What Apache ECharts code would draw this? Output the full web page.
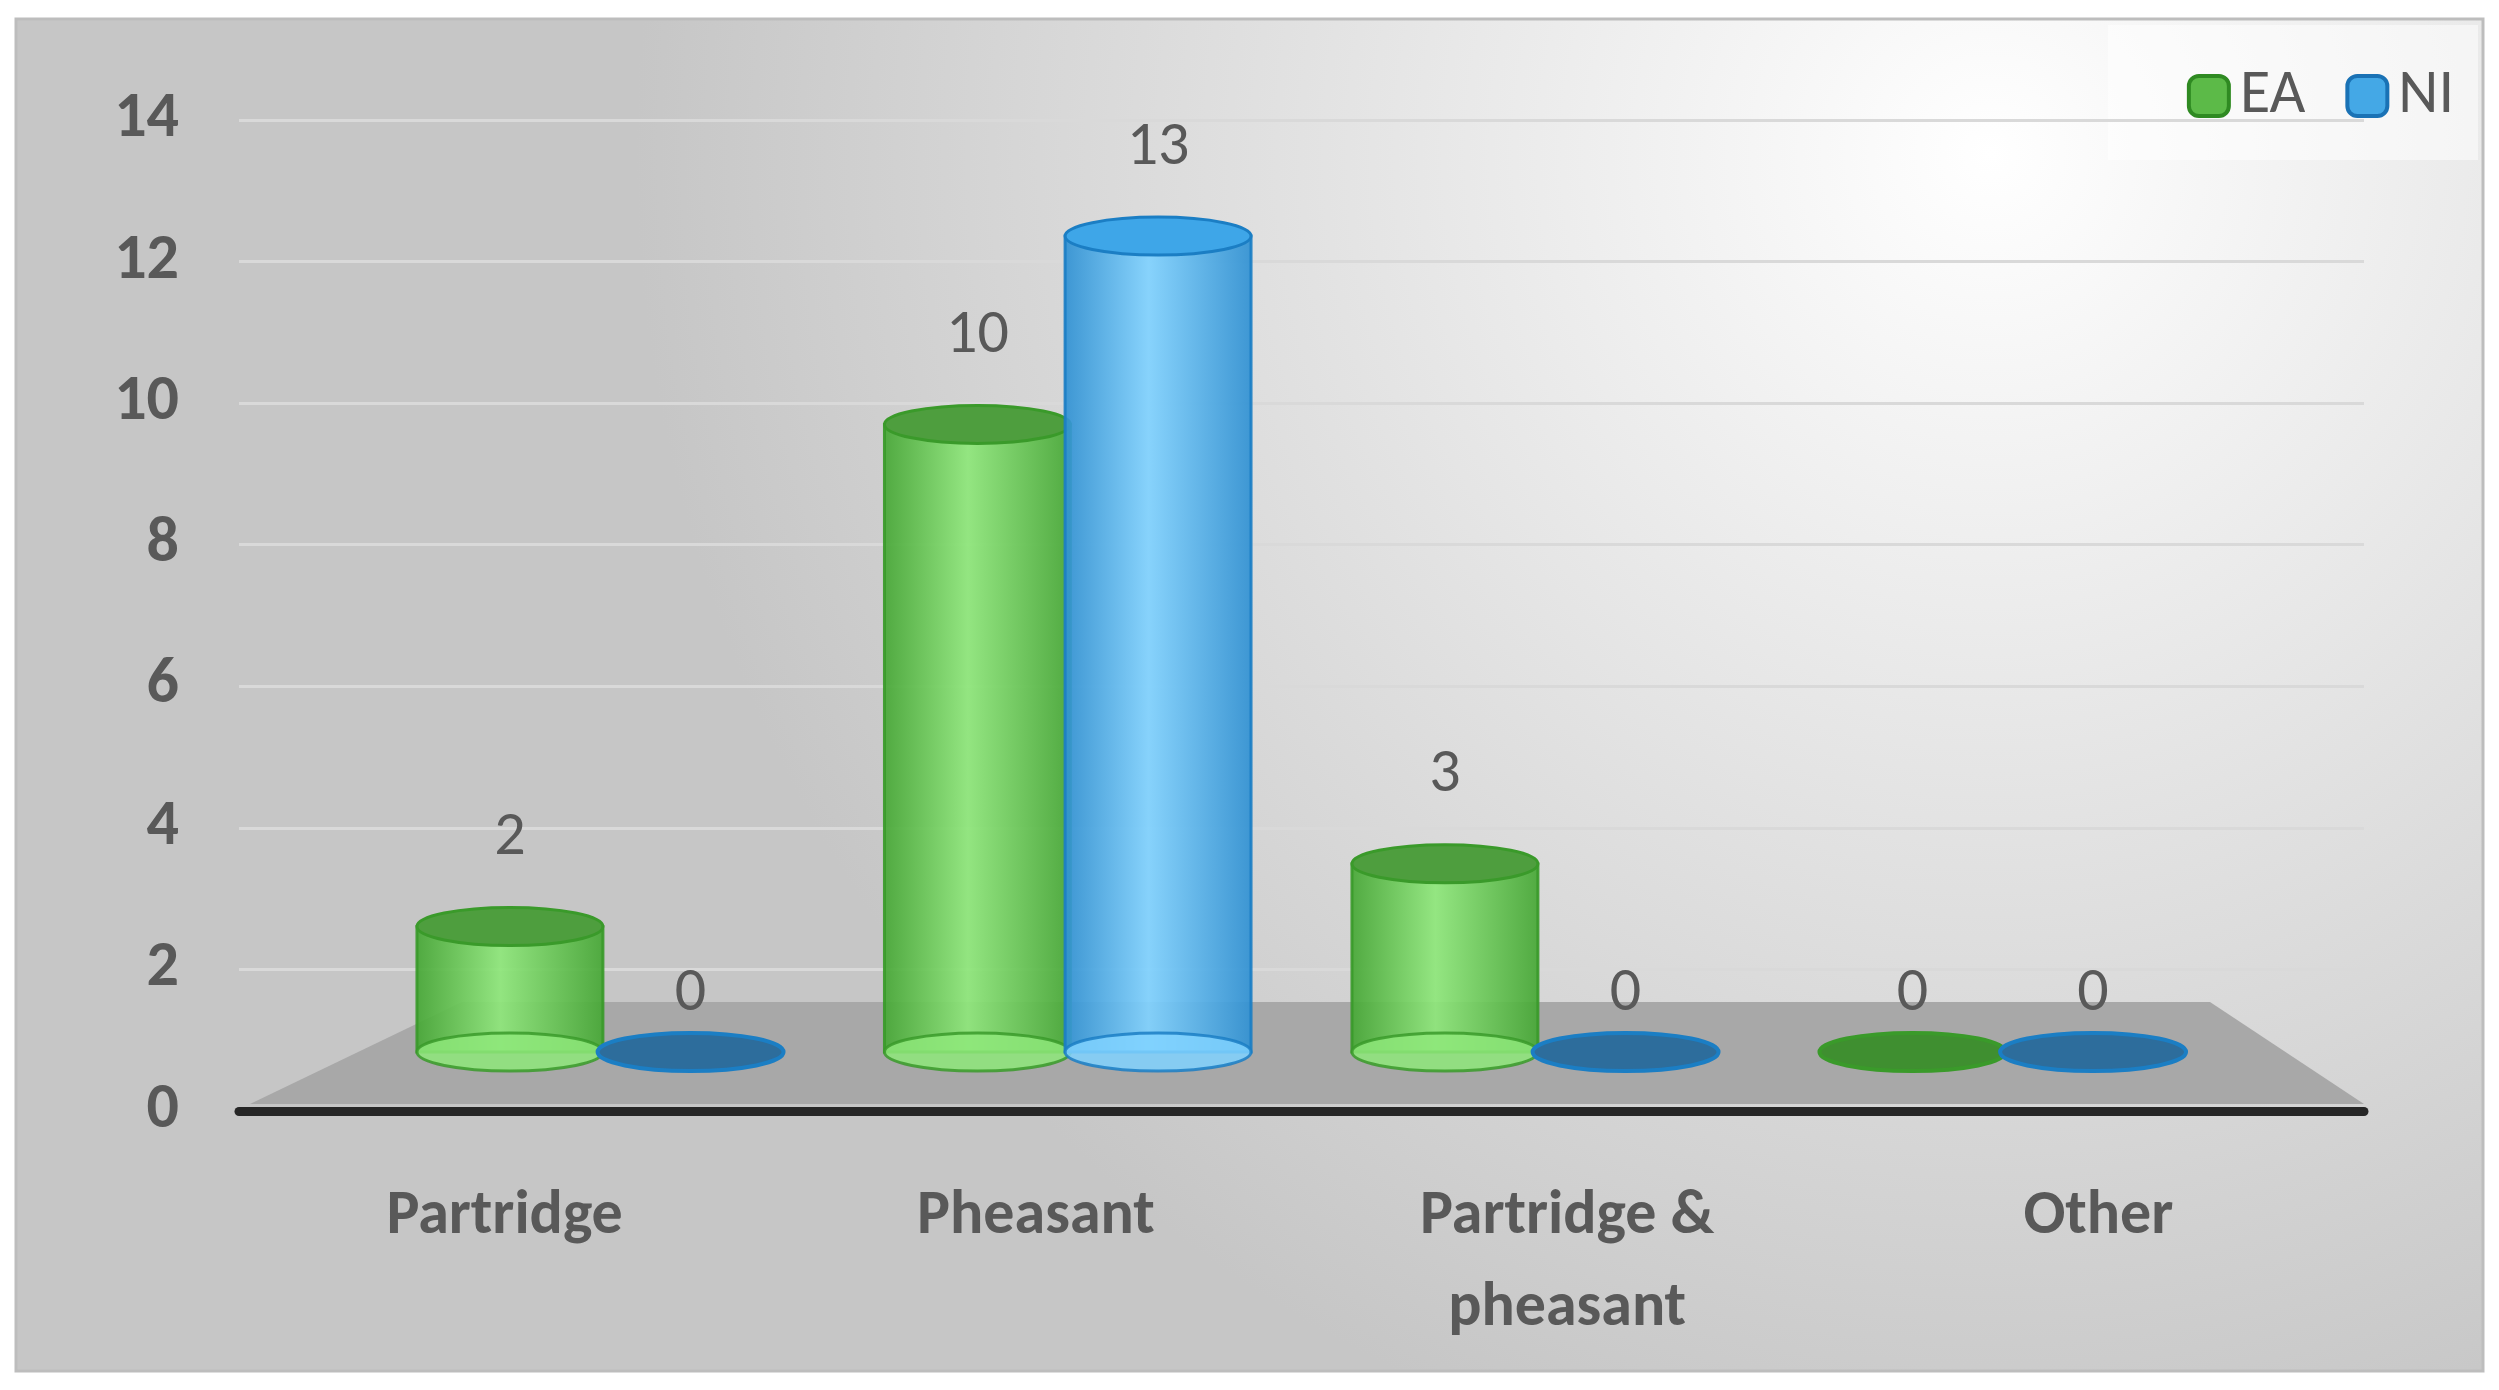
<!DOCTYPE html>
<html><head><meta charset="utf-8">
<script src="https://cdn.jsdelivr.net/npm/echarts@6/dist/echarts.min.js"></script>
<style>html,body{margin:0;padding:0;background:#fff}#chartDom{width:2499px;height:1390px}</style>
</head><body><div id="chartDom"></div>
<script>
var categories = ['Partridge', 'Pheasant', 'Partridge &\npheasant', 'Other'];
var eaValues = [2, 10, 3, 0];
var niValues = [0, 13, 0, 0];
var yTicks = [0, 2, 4, 6, 8, 10, 12, 14];

var FONT = 'Carlito, Calibri, "Open Sans", sans-serif';
var chartDom = echarts.init(document.getElementById('chartDom'));

function cylinder(values, offset, c) {
    return {
        type: 'custom',
        yAxisIndex: 1,
        data: values.map(function (v, i) { return [i, v]; }),
        z: 10,
        renderItem: function (params, api) {
            var idx = api.value(0), val = api.value(1);
            var bw = api.size([1, 0])[0];
            var top = api.coord([idx, val]);
            var bot = api.coord([idx, 0]);
            // slight perspective: bars drift left towards the right of the chart
            var cx = top[0] + (offset + 0.18 - 0.12 * idx) * bw;
            var rx = bw * 0.175, ry = 19;
            var children = [];
            if (val > 0) {
                children.push({
                    type: 'rect',
                    shape: { x: cx - rx, y: top[1], width: rx * 2, height: bot[1] - top[1] },
                    style: {
                        fill: new echarts.graphic.LinearGradient(0, 0, 1, 0, [
                            { offset: 0, color: c.edge }, { offset: 0.45, color: c.mid }, { offset: 1, color: c.edge }
                        ]),
                        stroke: c.line, lineWidth: 3, opacity: 0.92
                    }
                });
                children.push({ type: 'ellipse', shape: { cx: cx, cy: bot[1], rx: rx, ry: ry },
                    style: { fill: c.mid, stroke: c.line, lineWidth: 3, opacity: 0.85 } });
                children.push({ type: 'ellipse', shape: { cx: cx, cy: top[1], rx: rx, ry: ry },
                    style: { fill: c.top, stroke: c.line, lineWidth: 3 } });
            } else {
                children.push({ type: 'ellipse', shape: { cx: cx, cy: bot[1], rx: rx, ry: ry },
                    style: { fill: c.zero, stroke: c.line, lineWidth: 4 } });
            }
            children.push({ type: 'text', style: { text: String(val), x: cx, y: top[1] - (val > 0 ? 88 : 58),
                align: 'center', verticalAlign: 'middle', fill: '#595959', fontSize: 62, fontFamily: FONT } });
            return { type: 'group', children: children };
        }
    };
}

var green = { edge: '#45a634', mid: '#8ee77a', top: '#4e9e3e', line: '#3a9a2a', zero: '#3f8f30' };
var blue = { edge: '#2f90d2', mid: '#80d2ff', top: '#3ea6e8', line: '#1b7ec4', zero: '#2d6d9c' };

chartDom.setOption({
    animation: false,
    graphic: [
        { type: 'rect', z: -10, shape: { x: 16, y: 19, width: 2467, height: 1352 },
          style: { fill: new echarts.graphic.RadialGradient(0.8, 0.1, 1.0, [
              { offset: 0, color: '#ffffff' }, { offset: 1, color: '#c6c6c6' }]), stroke: '#bdbdbd', lineWidth: 3 } },
        { type: 'rect', z: -9, shape: { x: 2108, y: 25, width: 370, height: 135 }, style: { fill: 'rgba(255,255,255,0.5)' } },
        { type: 'polygon', z: -5, shape: { points: [[250, 1104], [2364, 1104], [2210, 1002], [462, 1002]] },
          style: { fill: '#a8a8a8' } }
    ],
    legend: {
        right: 40, top: 60, itemWidth: 40, itemHeight: 40, itemGap: 40,
        textStyle: { fontSize: 62, color: '#595959', fontFamily: FONT, padding: [0, 0, 0, 6] },
        data: [
            { name: 'EA', itemStyle: { color: '#5cba48', borderColor: '#2f8a22', borderWidth: 4 } },
            { name: 'NI', itemStyle: { color: '#44a8e6', borderColor: '#1a72b5', borderWidth: 4 } }
        ]
    },
    grid: { left: 239, right: 135, top: 120, bottom: 279 },
    xAxis: {
        type: 'category', data: categories,
        axisLine: { lineStyle: { color: '#262626', width: 9 } },
        axisTick: { show: false },
        axisLabel: { margin: 60, fontSize: 62, fontWeight: 'bold', color: '#595959', lineHeight: 92, fontFamily: FONT }
    },
    yAxis: [{
        type: 'value', min: yTicks[0], max: yTicks[yTicks.length - 1], interval: 2,
        axisLine: { show: false }, axisTick: { show: false },
        axisLabel: { fontSize: 64, fontWeight: 'bold', color: '#595959', margin: 60, fontFamily: FONT },
        splitLine: { lineStyle: { color: '#d9d9d9', width: 3 } }
    }, {
        type: 'value', min: -0.94, max: 14.85, show: false, splitLine: { show: false }
    }],
    series: [
        Object.assign(cylinder(eaValues, -0.17, green), { name: 'EA', itemStyle: { color: '#5cba48' } }),
        Object.assign(cylinder(niValues, 0.17, blue), { name: 'NI', itemStyle: { color: '#44a8e6' } })
    ]
});
</script></body></html>
